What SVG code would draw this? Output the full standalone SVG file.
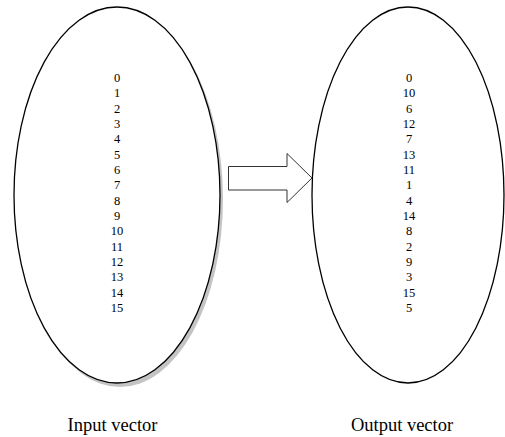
<svg xmlns="http://www.w3.org/2000/svg" width="505" height="437" viewBox="0 0 505 437">
  <style>
    .vec { fill: #fff; stroke: #000; stroke-width: 1.3; }
    .shadow { fill: #c4c4c4; stroke: none; }
    .num { font-family: "Liberation Serif", "Times New Roman", serif; font-size: 12.5px; text-anchor: middle; fill: #000; }
    .label { font-family: "Liberation Serif", "Times New Roman", serif; font-size: 18.5px; text-anchor: middle; fill: #000; }
    .arrow { fill: #fff; stroke: #333; stroke-width: 1; }
  </style>

  <!-- input vector node -->
  <g id="input-vector">
    <ellipse class="shadow" cx="120" cy="199" rx="103" ry="188"/>
    <ellipse class="vec" cx="117" cy="195" rx="103" ry="188"/>
    <text class="num" x="117" y="82">0</text>
    <text class="num" x="117" y="97.3">1</text>
    <text class="num" x="117" y="112.7">2</text>
    <text class="num" x="117" y="128">3</text>
    <text class="num" x="117" y="143.3">4</text>
    <text class="num" x="117" y="158.7">5</text>
    <text class="num" x="117" y="174">6</text>
    <text class="num" x="117" y="189.3">7</text>
    <text class="num" x="117" y="204.7">8</text>
    <text class="num" x="117" y="220">9</text>
    <text class="num" x="117" y="235.3">10</text>
    <text class="num" x="117" y="250.7">11</text>
    <text class="num" x="117" y="266">12</text>
    <text class="num" x="117" y="281.3">13</text>
    <text class="num" x="117" y="296.7">14</text>
    <text class="num" x="117" y="312">15</text>
    <text class="label" x="112.5" y="431">Input vector</text>
  </g>

  <!-- output vector node -->
  <g id="output-vector">
    <ellipse class="vec" cx="408" cy="195" rx="96" ry="188"/>
    <text class="num" x="409" y="82">0</text>
    <text class="num" x="409" y="97.3">10</text>
    <text class="num" x="409" y="112.7">6</text>
    <text class="num" x="409" y="128">12</text>
    <text class="num" x="409" y="143.3">7</text>
    <text class="num" x="409" y="158.7">13</text>
    <text class="num" x="409" y="174">11</text>
    <text class="num" x="409" y="189.3">1</text>
    <text class="num" x="409" y="204.7">4</text>
    <text class="num" x="409" y="220">14</text>
    <text class="num" x="409" y="235.3">8</text>
    <text class="num" x="409" y="250.7">2</text>
    <text class="num" x="409" y="266">9</text>
    <text class="num" x="409" y="281.3">3</text>
    <text class="num" x="409" y="296.7">15</text>
    <text class="num" x="409" y="312">5</text>
    <text class="label" x="402" y="431">Output vector</text>
  </g>

  <!-- block arrow between the vectors -->
  <g id="connectors">
    <path class="arrow" d="M228.5,166.5 H287 V153.5 L312,178 L287,202.5 V190 H228.5 Z"/>
  </g>
</svg>
